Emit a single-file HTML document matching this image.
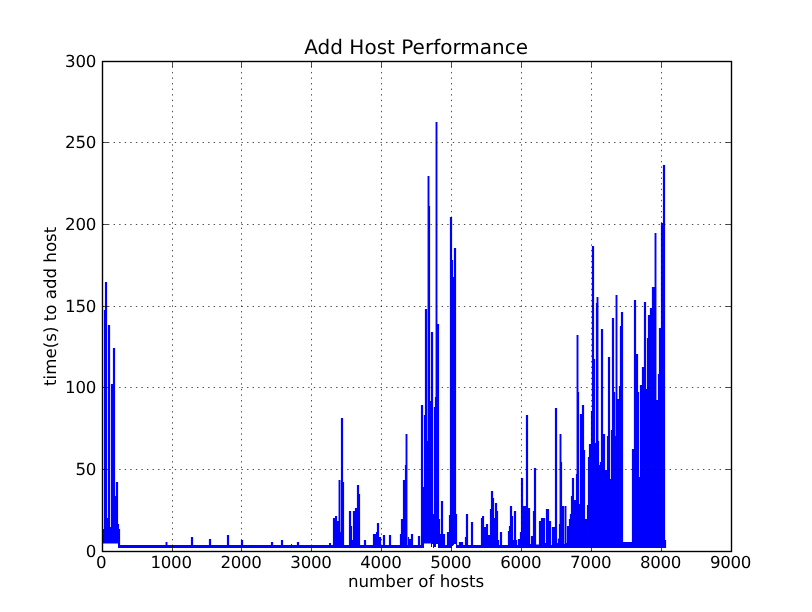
<!DOCTYPE html>
<html><head><meta charset="utf-8"><title>Add Host Performance</title>
<style>html,body{margin:0;padding:0;background:#fff;}svg{display:block;will-change:transform;}text{text-rendering:geometricPrecision;-webkit-font-smoothing:antialiased;}</style>
</head><body><svg width="812" height="612" viewBox="0 0 812 612"><rect width="812" height="612" fill="#fff"/><g fill="#0000ff"><rect x="120" y="545" width="46" height="3"/><rect x="167" y="545" width="24" height="3"/><rect x="193" y="545" width="16" height="3"/><rect x="211" y="545" width="16" height="3"/><rect x="229" y="545" width="12" height="3"/><rect x="243" y="545" width="28" height="3"/><rect x="273" y="545" width="8" height="3"/><rect x="283" y="545" width="8" height="3"/><rect x="292" y="545" width="5" height="3"/><rect x="299" y="545" width="30" height="3"/><rect x="331" y="545" width="2" height="3"/><rect x="344" y="545" width="5" height="3"/><rect x="360" y="545" width="4" height="3"/><rect x="366" y="545" width="7" height="3"/><rect x="381" y="545" width="2" height="3"/><rect x="385" y="545" width="4" height="3"/><rect x="391" y="545" width="9" height="3"/><rect x="407" y="545" width="1" height="3"/><rect x="413" y="545" width="5" height="3"/><rect x="420" y="545" width="1" height="3"/><rect x="445" y="545" width="2" height="3"/><rect x="457" y="545" width="2" height="3"/><rect x="463" y="545" width="2" height="3"/><rect x="468" y="545" width="3" height="3"/><rect x="473" y="545" width="8" height="3"/><rect x="499" y="545" width="1" height="3"/><rect x="502" y="545" width="6" height="3"/><rect x="517" y="545" width="1" height="3"/><rect x="551" y="545" width="1" height="3"/><rect x="103" y="529" width="1" height="14.5"/><rect x="102.90" y="529" width="0.10" height="14.5"/><rect x="104" y="310" width="1" height="233.5"/><rect x="103.90" y="310" width="0.10" height="219"/><rect x="105" y="282" width="1" height="261.5"/><rect x="104.90" y="282" width="0.10" height="28"/><rect x="106" y="282" width="1" height="261.5"/><rect x="107" y="282" width="0.10" height="236"/><rect x="107" y="518" width="1" height="25.5"/><rect x="108" y="325" width="1" height="218.5"/><rect x="107.90" y="325" width="0.10" height="193"/><rect x="109" y="325" width="1" height="218.5"/><rect x="110" y="325" width="0.10" height="202"/><rect x="110" y="527" width="1" height="16.5"/><rect x="111" y="384" width="1" height="159.5"/><rect x="110.90" y="384" width="0.10" height="143"/><rect x="112" y="384" width="1" height="159.5"/><rect x="113" y="348" width="1" height="195.5"/><rect x="112.90" y="348" width="0.10" height="36"/><rect x="114" y="348" width="1" height="195.5"/><rect x="115" y="348" width="0.10" height="148"/><rect x="115" y="496" width="1" height="47.5"/><rect x="116" y="482" width="1" height="61.5"/><rect x="115.90" y="482" width="0.10" height="14"/><rect x="117" y="482" width="1" height="61.5"/><rect x="118" y="482" width="0.10" height="42"/><rect x="118" y="524" width="1" height="24"/><rect x="119" y="524" width="0.10" height="5"/><rect x="119" y="529" width="1" height="19"/><rect x="120" y="529" width="0.10" height="16"/><rect x="166" y="542" width="1" height="6"/><rect x="165.55" y="542" width="0.45" height="3"/><rect x="167" y="542" width="0.45" height="3"/><rect x="191" y="537" width="1" height="11"/><rect x="190.90" y="537" width="0.10" height="8"/><rect x="192" y="537" width="1" height="11"/><rect x="193" y="537" width="0.10" height="8"/><rect x="209" y="539" width="1" height="9"/><rect x="208.90" y="539" width="0.10" height="6"/><rect x="210" y="539" width="1" height="9"/><rect x="211" y="539" width="0.10" height="6"/><rect x="227" y="535" width="1" height="13"/><rect x="226.90" y="535" width="0.10" height="10"/><rect x="228" y="535" width="1" height="13"/><rect x="229" y="535" width="0.10" height="10"/><rect x="241" y="540" width="1" height="8"/><rect x="240.90" y="540" width="0.10" height="5"/><rect x="242" y="540" width="1" height="8"/><rect x="243" y="540" width="0.10" height="5"/><rect x="271" y="542" width="1" height="6"/><rect x="270.90" y="542" width="0.10" height="3"/><rect x="272" y="542" width="1" height="6"/><rect x="273" y="542" width="0.10" height="3"/><rect x="281" y="540" width="1" height="8"/><rect x="280.90" y="540" width="0.10" height="5"/><rect x="282" y="540" width="1" height="8"/><rect x="283" y="540" width="0.10" height="5"/><rect x="291" y="544" width="1" height="4"/><rect x="297" y="542" width="1" height="6"/><rect x="296.90" y="542" width="0.10" height="3"/><rect x="298" y="542" width="1" height="6"/><rect x="299" y="542" width="0.10" height="3"/><rect x="329" y="543" width="1" height="5"/><rect x="330" y="543" width="1" height="5"/><rect x="333" y="518" width="1" height="30"/><rect x="332.90" y="518" width="0.10" height="27"/><rect x="334" y="518" width="1" height="30"/><rect x="335" y="516" width="1" height="32"/><rect x="336" y="516" width="1" height="32"/><rect x="337" y="516" width="0.10" height="5"/><rect x="337" y="521" width="1" height="27"/><rect x="338" y="521" width="1" height="27"/><rect x="339" y="480" width="1" height="68"/><rect x="338.55" y="480" width="0.45" height="41"/><rect x="340" y="480" width="0.45" height="52"/><rect x="340" y="532" width="1" height="16"/><rect x="341" y="418" width="1" height="130"/><rect x="340.90" y="418" width="0.10" height="114"/><rect x="342" y="418" width="1" height="130"/><rect x="343" y="418" width="0.10" height="64"/><rect x="343" y="482" width="1" height="66"/><rect x="344" y="482" width="0.10" height="63"/><rect x="349" y="511" width="1" height="37"/><rect x="348.90" y="511" width="0.10" height="34"/><rect x="350" y="511" width="1" height="37"/><rect x="351" y="511" width="0.10" height="15"/><rect x="351" y="526" width="1" height="22"/><rect x="352" y="526" width="0.10" height="14"/><rect x="352" y="540" width="1" height="8"/><rect x="353" y="511" width="1" height="37"/><rect x="352.90" y="511" width="0.10" height="29"/><rect x="354" y="511" width="1" height="37"/><rect x="355" y="508" width="1" height="40"/><rect x="354.90" y="508" width="0.10" height="3"/><rect x="356" y="508" width="1" height="40"/><rect x="357" y="485" width="1" height="63"/><rect x="356.90" y="485" width="0.10" height="23"/><rect x="358" y="485" width="1" height="63"/><rect x="359" y="485" width="0.10" height="9"/><rect x="359" y="494" width="1" height="54"/><rect x="360" y="494" width="0.10" height="51"/><rect x="364" y="540" width="1" height="8"/><rect x="363.90" y="540" width="0.10" height="5"/><rect x="365" y="540" width="1" height="8"/><rect x="366" y="540" width="0.10" height="5"/><rect x="373" y="534" width="1" height="14"/><rect x="372.90" y="534" width="0.10" height="11"/><rect x="374" y="534" width="1" height="14"/><rect x="375" y="534" width="1" height="14"/><rect x="376" y="532" width="1" height="16"/><rect x="377" y="523" width="1" height="25"/><rect x="376.90" y="523" width="0.10" height="9"/><rect x="378" y="523" width="1" height="25"/><rect x="379" y="523" width="0.10" height="14"/><rect x="379" y="537" width="1" height="11"/><rect x="380" y="537" width="1" height="11"/><rect x="381" y="537" width="0.10" height="8"/><rect x="383" y="535" width="1" height="13"/><rect x="382.90" y="535" width="0.10" height="10"/><rect x="384" y="535" width="1" height="13"/><rect x="385" y="535" width="0.10" height="10"/><rect x="389" y="535" width="1" height="13"/><rect x="388.90" y="535" width="0.10" height="10"/><rect x="390" y="535" width="1" height="13"/><rect x="391" y="535" width="0.10" height="10"/><rect x="400" y="534" width="1" height="14"/><rect x="399.90" y="534" width="0.10" height="11"/><rect x="401" y="519" width="1" height="29"/><rect x="400.90" y="519" width="0.10" height="15"/><rect x="402" y="519" width="1" height="29"/><rect x="403" y="480" width="1" height="68"/><rect x="402.90" y="480" width="0.10" height="39"/><rect x="404" y="480" width="1" height="68"/><rect x="405" y="465" width="1" height="83"/><rect x="404.90" y="465" width="0.10" height="15"/><rect x="406" y="434" width="1" height="114"/><rect x="405.55" y="434" width="0.45" height="31"/><rect x="407" y="434" width="0.45" height="111"/><rect x="408" y="537" width="1" height="11"/><rect x="407.90" y="537" width="0.10" height="8"/><rect x="409" y="539" width="1" height="9"/><rect x="410" y="539" width="1" height="9"/><rect x="411" y="534" width="1" height="14"/><rect x="410.90" y="534" width="0.10" height="5"/><rect x="412" y="534" width="1" height="14"/><rect x="413" y="534" width="0.10" height="11"/><rect x="418" y="536" width="1" height="12"/><rect x="417.90" y="536" width="0.10" height="9"/><rect x="419" y="536" width="1" height="12"/><rect x="420" y="536" width="0.10" height="9"/><rect x="421" y="405" width="1" height="143"/><rect x="420.90" y="405" width="0.10" height="140"/><rect x="422" y="405" width="1" height="143"/><rect x="423" y="405" width="0.10" height="82"/><rect x="423" y="487" width="1" height="61"/><rect x="424" y="415" width="1" height="128.5"/><rect x="423.90" y="415" width="0.10" height="72"/><rect x="425" y="309" width="1" height="234.5"/><rect x="424.90" y="309" width="0.10" height="106"/><rect x="426" y="309" width="1" height="234.5"/><rect x="427" y="309" width="0.10" height="132"/><rect x="427" y="441" width="1" height="102.5"/><rect x="428" y="176" width="1" height="367.5"/><rect x="427.55" y="176" width="0.45" height="265"/><rect x="429" y="176" width="0.45" height="30"/><rect x="429" y="206" width="1" height="337.5"/><rect x="430" y="206" width="0.10" height="195"/><rect x="430" y="401" width="1" height="142.5"/><rect x="431" y="332" width="1" height="215"/><rect x="430.90" y="332" width="0.10" height="69"/><rect x="432" y="332" width="1" height="212"/><rect x="433" y="332" width="0.10" height="182"/><rect x="433" y="514" width="1" height="34"/><rect x="434" y="407" width="1" height="140"/><rect x="433.90" y="407" width="0.10" height="107"/><rect x="435" y="397" width="1" height="150"/><rect x="434.90" y="397" width="0.10" height="10"/><rect x="436" y="122" width="1" height="422"/><rect x="435.55" y="122" width="0.45" height="275"/><rect x="437" y="122" width="0.45" height="202"/><rect x="437" y="324" width="1" height="220"/><rect x="438" y="324" width="1" height="224"/><rect x="439" y="324" width="0.10" height="195"/><rect x="439" y="519" width="1" height="29"/><rect x="440" y="519" width="0.10" height="15"/><rect x="440" y="534" width="1" height="14"/><rect x="441" y="501" width="1" height="47"/><rect x="440.90" y="501" width="0.10" height="33"/><rect x="442" y="501" width="1" height="47"/><rect x="443" y="501" width="0.10" height="33"/><rect x="443" y="534" width="1" height="14"/><rect x="444" y="534" width="1" height="14"/><rect x="445" y="534" width="0.10" height="11"/><rect x="447" y="532" width="1" height="16"/><rect x="446.90" y="532" width="0.10" height="13"/><rect x="448" y="532" width="1" height="16"/><rect x="449" y="515" width="1" height="33"/><rect x="448.90" y="515" width="0.10" height="17"/><rect x="450" y="217" width="1" height="331"/><rect x="449.90" y="217" width="0.10" height="298"/><rect x="451" y="217" width="1" height="331"/><rect x="452" y="217" width="0.10" height="43"/><rect x="452" y="260" width="1" height="286"/><rect x="453" y="260" width="0.10" height="17"/><rect x="453" y="277" width="1" height="268"/><rect x="454" y="248" width="1" height="296"/><rect x="453.90" y="248" width="0.10" height="29"/><rect x="455" y="248" width="1" height="296"/><rect x="456" y="248" width="0.10" height="266"/><rect x="456" y="514" width="1" height="34"/><rect x="457" y="514" width="0.10" height="31"/><rect x="459" y="542" width="1" height="6"/><rect x="458.90" y="542" width="0.10" height="3"/><rect x="460" y="542" width="1" height="6"/><rect x="461" y="542" width="1" height="6"/><rect x="462" y="542" width="1" height="6"/><rect x="463" y="542" width="0.10" height="3"/><rect x="465" y="537" width="1" height="11"/><rect x="464.90" y="537" width="0.10" height="8"/><rect x="466" y="514" width="1" height="34"/><rect x="465.90" y="514" width="0.10" height="23"/><rect x="467" y="514" width="1" height="34"/><rect x="468" y="514" width="0.10" height="31"/><rect x="471" y="522" width="1" height="26"/><rect x="470.90" y="522" width="0.10" height="23"/><rect x="472" y="522" width="1" height="26"/><rect x="473" y="522" width="0.10" height="23"/><rect x="481" y="518" width="1" height="30"/><rect x="480.90" y="518" width="0.10" height="27"/><rect x="482" y="516" width="1" height="32"/><rect x="483" y="516" width="1" height="32"/><rect x="484" y="516" width="0.10" height="11"/><rect x="484" y="527" width="1" height="21"/><rect x="485" y="527" width="1" height="21"/><rect x="486" y="524" width="1" height="24"/><rect x="485.90" y="524" width="0.10" height="3"/><rect x="487" y="524" width="1" height="24"/><rect x="488" y="524" width="0.10" height="11"/><rect x="488" y="535" width="1" height="13"/><rect x="489" y="535" width="1" height="13"/><rect x="490" y="509" width="1" height="39"/><rect x="489.90" y="509" width="0.10" height="26"/><rect x="491" y="491" width="1" height="57"/><rect x="490.90" y="491" width="0.10" height="18"/><rect x="492" y="491" width="1" height="57"/><rect x="493" y="491" width="0.10" height="7"/><rect x="493" y="498" width="1" height="50"/><rect x="494" y="498" width="0.10" height="20"/><rect x="494" y="518" width="1" height="30"/><rect x="495" y="503" width="1" height="45"/><rect x="494.90" y="503" width="0.10" height="15"/><rect x="496" y="503" width="1" height="45"/><rect x="497" y="503" width="0.10" height="8"/><rect x="497" y="511" width="1" height="37"/><rect x="498" y="511" width="0.10" height="29"/><rect x="498" y="540" width="1" height="8"/><rect x="499" y="540" width="0.10" height="5"/><rect x="500" y="532" width="1" height="16"/><rect x="499.90" y="532" width="0.10" height="13"/><rect x="501" y="532" width="1" height="16"/><rect x="502" y="532" width="0.10" height="13"/><rect x="508" y="531" width="1" height="17"/><rect x="507.90" y="531" width="0.10" height="14"/><rect x="509" y="526" width="1" height="22"/><rect x="508.90" y="526" width="0.10" height="5"/><rect x="510" y="506" width="1" height="42"/><rect x="509.90" y="506" width="0.10" height="20"/><rect x="511" y="506" width="1" height="42"/><rect x="512" y="506" width="0.10" height="10"/><rect x="512" y="516" width="1" height="32"/><rect x="513" y="516" width="0.10" height="24"/><rect x="513" y="540" width="1" height="8"/><rect x="514" y="511" width="1" height="37"/><rect x="513.90" y="511" width="0.10" height="29"/><rect x="515" y="511" width="1" height="37"/><rect x="516" y="511" width="0.10" height="29"/><rect x="516" y="540" width="1" height="8"/><rect x="517" y="540" width="0.10" height="5"/><rect x="518" y="539" width="1" height="9"/><rect x="517.90" y="539" width="0.10" height="6"/><rect x="519" y="539" width="1" height="9"/><rect x="520" y="532" width="1" height="16"/><rect x="519.90" y="532" width="0.10" height="7"/><rect x="521" y="478" width="1" height="70"/><rect x="520.90" y="478" width="0.10" height="54"/><rect x="522" y="478" width="1" height="70"/><rect x="523" y="478" width="0.10" height="28"/><rect x="523" y="506" width="1" height="42"/><rect x="524" y="506" width="1" height="42"/><rect x="525" y="506" width="1" height="42"/><rect x="526" y="415" width="1" height="133"/><rect x="525.90" y="415" width="0.10" height="91"/><rect x="527" y="415" width="1" height="133"/><rect x="528" y="415" width="0.10" height="93"/><rect x="528" y="508" width="1" height="40"/><rect x="529" y="508" width="1" height="40"/><rect x="530" y="508" width="0.10" height="36"/><rect x="530" y="544" width="1" height="4"/><rect x="531" y="536" width="1" height="12"/><rect x="530.90" y="536" width="0.10" height="8"/><rect x="532" y="536" width="1" height="12"/><rect x="533" y="511" width="1" height="37"/><rect x="532.90" y="511" width="0.10" height="25"/><rect x="534" y="468" width="1" height="80"/><rect x="533.90" y="468" width="0.10" height="43"/><rect x="535" y="468" width="1" height="80"/><rect x="536" y="468" width="0.10" height="76.5"/><rect x="536" y="544.5" width="1" height="3.5"/><rect x="537" y="544.5" width="1" height="3.5"/><rect x="538" y="544.5" width="1" height="3.5"/><rect x="539" y="521" width="1" height="27"/><rect x="538.90" y="521" width="0.10" height="23.5"/><rect x="540" y="521" width="1" height="27"/><rect x="541" y="518" width="1" height="30"/><rect x="540.90" y="518" width="0.10" height="3"/><rect x="542" y="518" width="1" height="30"/><rect x="543" y="518" width="1" height="30"/><rect x="544" y="518" width="1" height="30"/><rect x="545" y="518" width="0.10" height="25"/><rect x="545" y="543" width="1" height="5"/><rect x="546" y="509" width="1" height="39"/><rect x="545.90" y="509" width="0.10" height="34"/><rect x="547" y="509" width="1" height="39"/><rect x="548" y="509" width="1" height="39"/><rect x="549" y="509" width="0.10" height="12"/><rect x="549" y="521" width="1" height="27"/><rect x="550" y="521" width="1" height="27"/><rect x="551" y="521" width="0.10" height="24"/><rect x="552" y="527" width="1" height="21"/><rect x="551.90" y="527" width="0.10" height="18"/><rect x="553" y="527" width="1" height="21"/><rect x="554" y="527" width="1" height="21"/><rect x="555" y="408" width="1" height="140"/><rect x="554.90" y="408" width="0.10" height="119"/><rect x="556" y="408" width="1" height="140"/><rect x="557" y="408" width="0.10" height="135"/><rect x="557" y="543" width="1" height="5"/><rect x="558" y="538.6" width="1" height="9.399999999999977"/><rect x="557.90" y="538.6" width="0.10" height="4.399999999999977"/><rect x="559" y="524" width="1" height="24"/><rect x="558.90" y="524" width="0.10" height="14.600000000000023"/><rect x="560" y="434" width="1" height="114"/><rect x="559.55" y="434" width="0.45" height="90"/><rect x="561" y="434" width="0.45" height="28"/><rect x="561" y="462" width="1" height="86"/><rect x="562" y="462" width="0.10" height="44"/><rect x="562" y="506" width="1" height="42"/><rect x="563" y="506" width="1" height="42"/><rect x="564" y="506" width="0.10" height="38"/><rect x="564" y="544" width="1" height="4"/><rect x="565" y="506" width="1" height="42"/><rect x="564.55" y="506" width="0.45" height="38"/><rect x="566" y="506" width="0.45" height="37"/><rect x="566" y="543" width="1" height="5"/><rect x="567" y="526" width="1" height="22"/><rect x="566.90" y="526" width="0.10" height="17"/><rect x="568" y="526" width="1" height="22"/><rect x="569" y="519" width="1" height="29"/><rect x="568.90" y="519" width="0.10" height="7"/><rect x="570" y="514" width="1" height="34"/><rect x="569.90" y="514" width="0.10" height="5"/><rect x="571" y="496" width="1" height="52"/><rect x="570.90" y="496" width="0.10" height="18"/><rect x="572" y="478" width="1" height="70"/><rect x="571.90" y="478" width="0.10" height="18"/><rect x="573" y="478" width="1" height="70"/><rect x="574" y="478" width="0.10" height="22"/><rect x="574" y="500" width="1" height="48"/><rect x="575" y="500" width="1" height="48"/><rect x="576" y="474" width="1" height="74"/><rect x="575.90" y="474" width="0.10" height="26"/><rect x="577" y="335" width="1" height="213"/><rect x="576.55" y="335" width="0.45" height="139"/><rect x="578" y="335" width="0.45" height="57"/><rect x="578" y="392" width="1" height="156"/><rect x="579" y="392" width="0.10" height="112"/><rect x="579" y="504" width="1" height="44"/><rect x="580" y="414" width="1" height="134"/><rect x="579.90" y="414" width="0.10" height="90"/><rect x="581" y="414" width="1" height="134"/><rect x="582" y="405" width="1" height="143"/><rect x="581.90" y="405" width="0.10" height="9"/><rect x="583" y="405" width="1" height="143"/><rect x="584" y="405" width="0.10" height="45"/><rect x="584" y="450" width="1" height="98"/><rect x="585" y="450" width="0.10" height="69"/><rect x="585" y="519" width="1" height="29"/><rect x="586" y="519" width="1" height="29"/><rect x="587" y="505" width="1" height="43"/><rect x="586.90" y="505" width="0.10" height="14"/><rect x="588" y="457" width="1" height="91"/><rect x="587.90" y="457" width="0.10" height="48"/><rect x="589" y="444" width="1" height="104"/><rect x="588.90" y="444" width="0.10" height="13"/><rect x="590" y="444" width="1" height="104"/><rect x="591" y="411" width="1" height="137"/><rect x="590.90" y="411" width="0.10" height="33"/><rect x="592" y="246" width="1" height="302"/><rect x="591.90" y="246" width="0.10" height="165"/><rect x="593" y="246" width="1" height="302"/><rect x="594" y="246" width="0.10" height="113"/><rect x="594" y="359" width="1" height="189"/><rect x="595" y="359" width="0.10" height="84"/><rect x="595" y="443" width="1" height="105"/><rect x="596" y="303" width="1" height="245"/><rect x="595.90" y="303" width="0.10" height="140"/><rect x="597" y="297" width="1" height="251"/><rect x="596.55" y="297" width="0.45" height="6"/><rect x="598" y="297" width="0.45" height="144"/><rect x="598" y="441" width="1" height="107"/><rect x="599" y="441" width="0.10" height="24"/><rect x="599" y="465" width="1" height="83"/><rect x="600" y="462" width="1" height="86"/><rect x="599.90" y="462" width="0.10" height="3"/><rect x="601" y="329" width="1" height="219"/><rect x="600.90" y="329" width="0.10" height="133"/><rect x="602" y="329" width="1" height="219"/><rect x="603" y="329" width="0.10" height="105"/><rect x="603" y="434" width="1" height="114"/><rect x="604" y="434" width="1" height="114"/><rect x="605" y="434" width="0.10" height="36"/><rect x="605" y="470" width="1" height="78"/><rect x="606" y="470" width="1" height="78"/><rect x="607" y="436" width="1" height="112"/><rect x="606.90" y="436" width="0.10" height="34"/><rect x="608" y="357" width="1" height="191"/><rect x="607.90" y="357" width="0.10" height="79"/><rect x="609" y="357" width="1" height="191"/><rect x="610" y="357" width="0.10" height="122"/><rect x="610" y="479" width="1" height="69"/><rect x="611" y="430" width="1" height="118"/><rect x="610.90" y="430" width="0.10" height="49"/><rect x="612" y="318" width="1" height="230"/><rect x="611.90" y="318" width="0.10" height="112"/><rect x="613" y="318" width="1" height="230"/><rect x="614" y="318" width="0.10" height="74"/><rect x="614" y="392" width="1" height="156"/><rect x="615" y="392" width="0.10" height="44"/><rect x="615" y="436" width="1" height="112"/><rect x="616" y="295" width="1" height="253"/><rect x="615.55" y="295" width="0.45" height="141"/><rect x="617" y="295" width="0.45" height="104"/><rect x="617" y="399" width="1" height="149"/><rect x="618" y="399" width="1" height="149"/><rect x="619" y="386" width="1" height="162"/><rect x="618.90" y="386" width="0.10" height="13"/><rect x="620" y="326" width="1" height="222"/><rect x="619.90" y="326" width="0.10" height="60"/><rect x="621" y="312" width="1" height="236"/><rect x="620.90" y="312" width="0.10" height="14"/><rect x="622" y="312" width="1" height="236"/><rect x="623" y="312" width="0.10" height="230"/><rect x="623" y="542" width="1" height="6"/><rect x="624" y="542" width="1" height="6"/><rect x="625" y="542" width="1" height="6"/><rect x="626" y="542" width="1" height="6"/><rect x="627" y="542" width="1" height="6"/><rect x="628" y="542" width="1" height="6"/><rect x="629" y="542" width="1" height="6"/><rect x="630" y="542" width="1" height="6"/><rect x="631" y="542" width="1" height="6"/><rect x="632" y="449" width="1" height="99"/><rect x="631.90" y="449" width="0.10" height="93"/><rect x="633" y="449" width="1" height="99"/><rect x="634" y="300" width="1" height="248"/><rect x="633.90" y="300" width="0.10" height="149"/><rect x="635" y="300" width="1" height="248"/><rect x="636" y="300" width="0.10" height="54"/><rect x="636" y="354" width="1" height="194"/><rect x="637" y="354" width="1" height="194"/><rect x="638" y="354" width="0.10" height="38"/><rect x="638" y="392" width="1" height="156"/><rect x="639" y="392" width="0.10" height="85"/><rect x="639" y="477" width="1" height="71"/><rect x="640" y="385" width="1" height="163"/><rect x="639.90" y="385" width="0.10" height="92"/><rect x="641" y="385" width="1" height="163"/><rect x="642" y="367" width="1" height="181"/><rect x="641.90" y="367" width="0.10" height="18"/><rect x="643" y="367" width="1" height="181"/><rect x="644" y="302" width="1" height="246"/><rect x="643.90" y="302" width="0.10" height="65"/><rect x="645" y="302" width="1" height="246"/><rect x="646" y="302" width="0.10" height="87"/><rect x="646" y="389" width="1" height="159"/><rect x="647" y="338" width="1" height="210"/><rect x="646.90" y="338" width="0.10" height="51"/><rect x="648" y="315" width="1" height="233"/><rect x="647.90" y="315" width="0.10" height="23"/><rect x="649" y="315" width="1" height="233"/><rect x="650" y="308" width="1" height="240"/><rect x="649.90" y="308" width="0.10" height="7"/><rect x="651" y="308" width="1" height="240"/><rect x="652" y="287" width="1" height="261"/><rect x="651.90" y="287" width="0.10" height="21"/><rect x="653" y="287" width="1" height="261"/><rect x="654" y="287" width="1" height="261"/><rect x="655" y="233" width="1" height="315"/><rect x="654.55" y="233" width="0.45" height="54"/><rect x="656" y="233" width="0.45" height="167"/><rect x="656" y="400" width="1" height="148"/><rect x="657" y="400" width="1" height="148"/><rect x="658" y="374" width="1" height="174"/><rect x="657.90" y="374" width="0.10" height="26"/><rect x="659" y="328" width="1" height="220"/><rect x="658.90" y="328" width="0.10" height="46"/><rect x="660" y="328" width="1" height="220"/><rect x="661" y="223" width="1" height="325"/><rect x="660.90" y="223" width="0.10" height="105"/><rect x="662" y="223" width="1" height="325"/><rect x="663" y="165" width="1" height="383"/><rect x="662.90" y="165" width="0.10" height="58"/><rect x="664" y="165" width="1" height="383"/><rect x="665" y="165" width="0.10" height="375"/><rect x="665" y="540" width="1" height="8"/><rect x="666" y="540" width="0.10" height="8"/></g><g stroke="#000" stroke-width="0.7" stroke-dasharray="1.39 4.17" fill="none"><line x1="172.5" y1="551.5" x2="172.5" y2="61.5"/><line x1="241.5" y1="551.5" x2="241.5" y2="61.5"/><line x1="311.5" y1="551.5" x2="311.5" y2="61.5"/><line x1="381.5" y1="551.5" x2="381.5" y2="61.5"/><line x1="451.5" y1="551.5" x2="451.5" y2="61.5"/><line x1="521.5" y1="551.5" x2="521.5" y2="61.5"/><line x1="591.5" y1="551.5" x2="591.5" y2="61.5"/><line x1="661.5" y1="551.5" x2="661.5" y2="61.5"/><line x1="102.5" y1="469.5" x2="731.5" y2="469.5"/><line x1="102.5" y1="387.5" x2="731.5" y2="387.5"/><line x1="102.5" y1="306.5" x2="731.5" y2="306.5"/><line x1="102.5" y1="224.5" x2="731.5" y2="224.5"/><line x1="102.5" y1="142.5" x2="731.5" y2="142.5"/></g><g stroke="#000" stroke-width="0.7"><line x1="172.5" y1="551.5" x2="172.5" y2="545.94"/><line x1="172.5" y1="61.5" x2="172.5" y2="67.06"/><line x1="241.5" y1="551.5" x2="241.5" y2="545.94"/><line x1="241.5" y1="61.5" x2="241.5" y2="67.06"/><line x1="311.5" y1="551.5" x2="311.5" y2="545.94"/><line x1="311.5" y1="61.5" x2="311.5" y2="67.06"/><line x1="381.5" y1="551.5" x2="381.5" y2="545.94"/><line x1="381.5" y1="61.5" x2="381.5" y2="67.06"/><line x1="451.5" y1="551.5" x2="451.5" y2="545.94"/><line x1="451.5" y1="61.5" x2="451.5" y2="67.06"/><line x1="521.5" y1="551.5" x2="521.5" y2="545.94"/><line x1="521.5" y1="61.5" x2="521.5" y2="67.06"/><line x1="591.5" y1="551.5" x2="591.5" y2="545.94"/><line x1="591.5" y1="61.5" x2="591.5" y2="67.06"/><line x1="661.5" y1="551.5" x2="661.5" y2="545.94"/><line x1="661.5" y1="61.5" x2="661.5" y2="67.06"/><line x1="102.5" y1="469.5" x2="108.06" y2="469.5"/><line x1="731.5" y1="469.5" x2="725.94" y2="469.5"/><line x1="102.5" y1="387.5" x2="108.06" y2="387.5"/><line x1="731.5" y1="387.5" x2="725.94" y2="387.5"/><line x1="102.5" y1="306.5" x2="108.06" y2="306.5"/><line x1="731.5" y1="306.5" x2="725.94" y2="306.5"/><line x1="102.5" y1="224.5" x2="108.06" y2="224.5"/><line x1="731.5" y1="224.5" x2="725.94" y2="224.5"/><line x1="102.5" y1="142.5" x2="108.06" y2="142.5"/><line x1="731.5" y1="142.5" x2="725.94" y2="142.5"/></g><rect x="102.5" y="61.5" width="629" height="490" fill="none" stroke="#000" stroke-width="1.39"/><g font-family="'DejaVu Sans', 'Liberation Sans', sans-serif" font-size="16.67" fill="#000"><text x="101.20" y="568" text-anchor="middle" letter-spacing="-0.3">0</text><text x="171.12" y="568" text-anchor="middle" letter-spacing="-0.3">1000</text><text x="241.04" y="568" text-anchor="middle" letter-spacing="-0.3">2000</text><text x="310.97" y="568" text-anchor="middle" letter-spacing="-0.3">3000</text><text x="380.89" y="568" text-anchor="middle" letter-spacing="-0.3">4000</text><text x="450.81" y="568" text-anchor="middle" letter-spacing="-0.3">5000</text><text x="520.73" y="568" text-anchor="middle" letter-spacing="-0.3">6000</text><text x="590.66" y="568" text-anchor="middle" letter-spacing="-0.3">7000</text><text x="660.58" y="568" text-anchor="middle" letter-spacing="-0.3">8000</text><text x="730.50" y="568" text-anchor="middle" letter-spacing="-0.3">9000</text><text x="96.0" y="556.9" text-anchor="end" letter-spacing="-0.3">0</text><text x="96.0" y="474.9" text-anchor="end" letter-spacing="-0.3">50</text><text x="96.0" y="392.9" text-anchor="end" letter-spacing="-0.3">100</text><text x="96.0" y="311.9" text-anchor="end" letter-spacing="-0.3">150</text><text x="96.0" y="229.9" text-anchor="end" letter-spacing="-0.3">200</text><text x="96.0" y="147.9" text-anchor="end" letter-spacing="-0.3">250</text><text x="96.0" y="66.9" text-anchor="end" letter-spacing="-0.3">300</text><text x="416.15" y="586.7" text-anchor="middle">number of hosts</text><text transform="translate(55.9 306.3) rotate(-90)" text-anchor="middle">time(s) to add host</text><text x="416.15" y="53.6" text-anchor="middle" font-size="20">Add Host Performance</text></g></svg></body></html>
